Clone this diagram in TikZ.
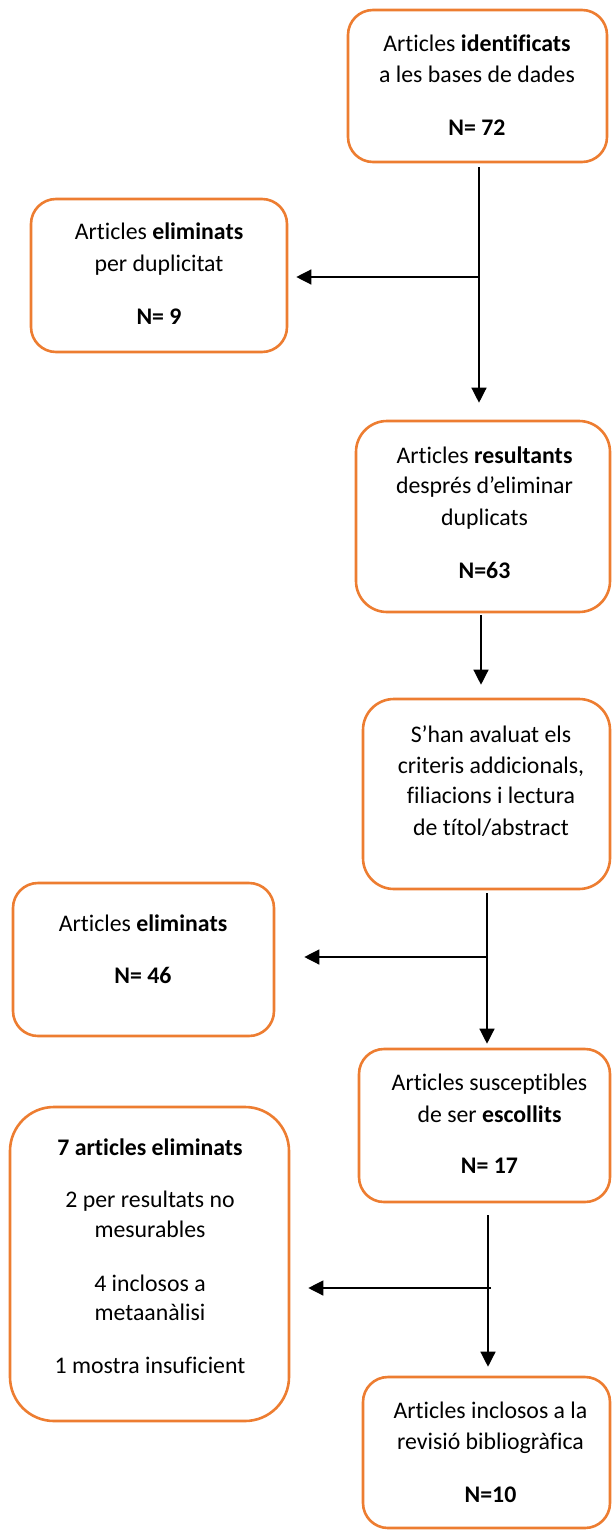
\documentclass[tikz,border=0pt]{standalone}
\usepackage{fontspec}
\setmainfont{Carlito}[Ligatures=NoCommon]
\usetikzlibrary{arrows.meta}
\definecolor{boxorange}{HTML}{ED7D31}
\begin{document}
\begin{tikzpicture}[x=1pt,y=-1pt,
  flowbox/.style={draw=boxorange, line width=2.6pt, fill=white, inner sep=0pt},
  txt/.style={anchor=base, inner sep=0pt, font=\fontsize{23.8}{31}\selectfont},
  arr/.style={line width=1.3pt, draw=black, -{Triangle[length=15pt,width=15pt]}},
]
\useasboundingbox (0,0) rectangle (611,1530);

% boxes
\node[flowbox, rounded corners=25pt, minimum width=259pt, minimum height=152pt] (b1) at (477.5,86) {};
\node[flowbox, rounded corners=25pt, minimum width=256pt, minimum height=153pt] (b2) at (159,275.5) {};
\node[flowbox, rounded corners=31pt, minimum width=254pt, minimum height=191pt] (b3) at (483,516.5) {};
\node[flowbox, rounded corners=31pt, minimum width=247pt, minimum height=190pt] (b4) at (486.5,794) {};
\node[flowbox, rounded corners=25pt, minimum width=261pt, minimum height=153pt] (b5) at (143.5,959.5) {};
\node[flowbox, rounded corners=25pt, minimum width=251pt, minimum height=153pt] (b6) at (484.5,1125.5) {};
\node[flowbox, rounded corners=44pt, minimum width=279pt, minimum height=314pt] (b7) at (149.5,1264) {};
\node[flowbox, rounded corners=25pt, minimum width=247pt, minimum height=151pt] (b8) at (486.5,1452.5) {};

% texts
\node[txt] (t1a) at (477,52) {Articles \textbf{identificats}};
\node[txt] (t1b) at (477,83) {a les bases de dades};
\node[txt] (t1c) at (477,136) {\textbf{N= 72}};

\node[txt] (t2a) at (159,240) {Articles \textbf{eliminats}};
\node[txt] (t2b) at (159,272) {per duplicitat};
\node[txt] (t2c) at (159,324) {\textbf{N= 9}};

\node[txt] (t3a) at (484.5,463) {Articles \textbf{resultants}};
\node[txt] (t3b) at (484.5,493) {després d’eliminar};
\node[txt] (t3c) at (484.5,525) {duplicats};
\node[txt] (t3d) at (484.5,578) {\textbf{N=63}};

\node[txt] (t4a) at (491,742) {S’han avaluat els};
\node[txt] (t4b) at (491,773) {criteris addicionals,};
\node[txt] (t4c) at (491,803) {filiacions i lectura};
\node[txt] (t4d) at (491,835) {de títol/abstract};

\node[txt] (t5a) at (143,931) {Articles \textbf{eliminats}};
\node[txt] (t5b) at (143,983) {\textbf{N= 46}};

\node[txt] (t6a) at (489.5,1090) {Articles susceptibles};
\node[txt] (t6b) at (489.5,1122) {de ser \textbf{escollits}};
\node[txt] (t6c) at (489.5,1173) {\textbf{N= 17}};

\node[txt] (t7a) at (150,1155) {\textbf{7 articles eliminats}};
\node[txt] (t7b) at (150,1207) {2 per resultats no};
\node[txt] (t7c) at (150,1237) {mesurables};
\node[txt] (t7d) at (150,1291) {4 inclosos a};
\node[txt] (t7e) at (150,1320) {metaanàlisi};
\node[txt] (t7f) at (150,1373) {1 mostra insuficient};

\node[txt] (t8a) at (490.5,1418) {Articles inclosos a la};
\node[txt] (t8b) at (490.5,1449) {revisió bibliogràfica};
\node[txt] (t8c) at (490.5,1502) {\textbf{N=10}};

% junctions
\coordinate (j1) at (479,277);
\coordinate (j2) at (481,650);
\coordinate (j3) at (487,957);
\coordinate (j4) at (488,1288);
\coordinate (j4r) at (491,1288);

% connectors
\draw[arr, shorten <=4pt, shorten >=17pt] (b1.south -| j1) -- (b3.north -| j1);
\draw[arr, shorten >=8pt] (j1) -- (b2.east |- j1);

\draw[arr, shorten <=2pt, shorten >=13pt] (b3.south -| j2) -- (b4.north -| j2);

\draw[arr, shorten <=3pt, shorten >=4pt] (b4.south -| j3) -- (b6.north -| j3);
\draw[arr, shorten >=29pt] (j3) -- (b5.east |- j3);

\draw[arr, shorten <=12pt, shorten >=9pt] (b6.south -| j4) -- (b8.north -| j4);
\draw[arr, shorten >=18pt] (j4r) -- (b7.east |- j4r);
\end{tikzpicture}
\end{document}
